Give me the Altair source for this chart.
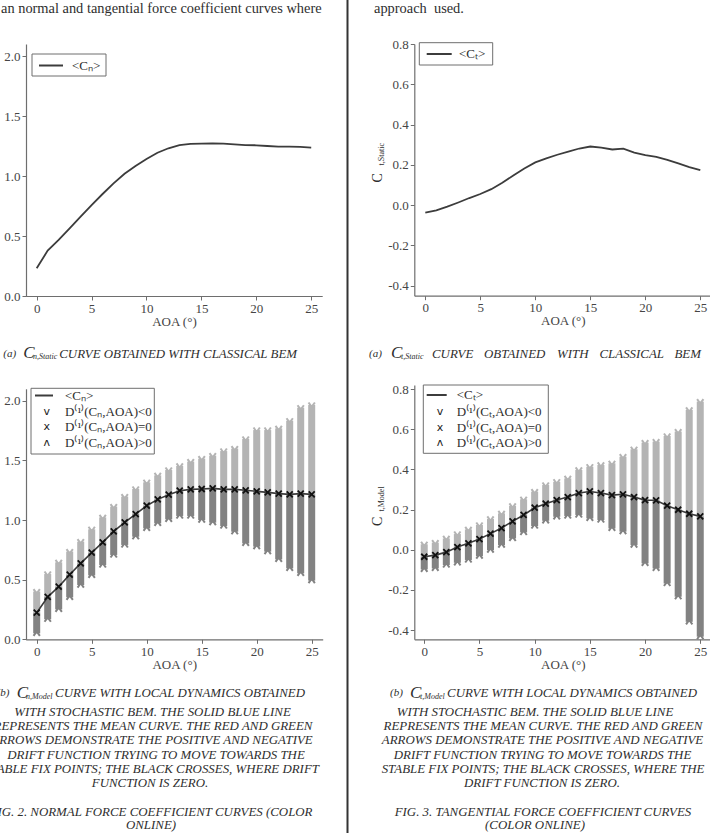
import altair as alt
import pandas as pd

W, H = 710, 833

# ---------------------------------------------------------------- data
aoa = list(range(26))

# static BEM curves
cn_static = [0.231, 0.378, 0.467, 0.564, 0.661, 0.758, 0.850, 0.939, 1.019, 1.083,
             1.142, 1.194, 1.231, 1.258, 1.267, 1.269, 1.272, 1.269, 1.264, 1.258,
             1.256, 1.250, 1.244, 1.244, 1.242, 1.236]
ct_static = [-0.038, -0.026, -0.008, 0.013, 0.035, 0.055, 0.079, 0.111, 0.147, 0.182,
             0.212, 0.232, 0.250, 0.265, 0.281, 0.291, 0.285, 0.276, 0.280, 0.261,
             0.248, 0.240, 0.225, 0.207, 0.189, 0.174]

# stochastic model: mean (zero drift) and extent of the drift arrows
cn_mean = [0.223, 0.355, 0.441, 0.542, 0.637, 0.726, 0.813, 0.905, 0.980, 1.050,
           1.120, 1.173, 1.212, 1.246, 1.257, 1.260, 1.265, 1.257, 1.257, 1.249,
           1.240, 1.232, 1.221, 1.215, 1.221, 1.215]
cn_up = [0.400, 0.547, 0.645, 0.735, 0.818, 0.922, 1.022, 1.112, 1.196, 1.260,
         1.316, 1.374, 1.419, 1.453, 1.489, 1.514, 1.539, 1.578, 1.598, 1.679,
         1.754, 1.754, 1.768, 1.832, 1.941, 1.964]
cn_low = [0.050, 0.168, 0.251, 0.352, 0.455, 0.536, 0.623, 0.707, 0.791, 0.860,
          0.930, 0.972, 1.006, 1.034, 1.034, 1.000, 0.978, 0.950, 0.902, 0.804,
          0.777, 0.735, 0.670, 0.595, 0.553, 0.492]

ct_mean = [-0.035, -0.027, -0.012, 0.013, 0.032, 0.053, 0.080, 0.108, 0.141, 0.173,
           0.209, 0.229, 0.247, 0.262, 0.282, 0.290, 0.282, 0.272, 0.276, 0.262,
           0.247, 0.246, 0.219, 0.199, 0.179, 0.166]
ct_up = [0.027, 0.035, 0.056, 0.078, 0.101, 0.123, 0.153, 0.181, 0.218, 0.251,
         0.289, 0.322, 0.338, 0.355, 0.397, 0.413, 0.422, 0.430, 0.463, 0.500,
         0.533, 0.538, 0.566, 0.588, 0.696, 0.737]
ct_low = [-0.098, -0.093, -0.076, -0.065, -0.051, -0.032, -0.002, 0.023, 0.056, 0.086,
          0.118, 0.144, 0.164, 0.168, 0.173, 0.156, 0.148, 0.106, 0.090, 0.023,
          -0.068, -0.093, -0.168, -0.234, -0.359, -0.433]

x_ticks = [0, 5, 10, 15, 20, 25]
cn_ticks = [0.0, 0.5, 1.0, 1.5, 2.0]
ct_ticks = [-0.4, -0.2, 0.0, 0.2, 0.4, 0.6, 0.8]

# ---------------------------------------------------------------- style
SERIF = "Liberation Serif"
INK = "#2e2e2e"
AX = "#6e6e6e"
LABEL = "#454545"
LINE = "#3c3c3c"
LIGHT = "#b4b4b4"
DARK = "#828282"

X_SHAPE = "M-1,-1L1,1M-1,1L1,-1"
V_SHAPE = "M-1,-0.8L0,0.6L1,-0.8"
A_SHAPE = "M-1,0.8L0,-0.6L1,0.8"

LABEL_EXPR = ("datum.value < 0 ? '-' + format(-datum.value, '.1f') "
              ": format(datum.value, '.1f')")


def make_axes(x_at, y_at, yvals):
    xa = alt.Axis(orient="bottom", offset=x_at - H, values=x_ticks, title="AOA (°)",
                  grid=False, labelFont=SERIF, labelFontSize=13, labelColor=LABEL,
                  labelPadding=2, titleFont=SERIF, titleFontSize=13,
                  titleFontWeight="normal", titleColor=LABEL, titlePadding=0,
                  tickSize=4, tickColor=AX, domainColor=AX, domainWidth=1.2,
                  labelFlush=False)
    ya = alt.Axis(orient="left", offset=-y_at, values=yvals, labelExpr=LABEL_EXPR,
                  title=None, grid=False, labelFont=SERIF, labelFontSize=13,
                  labelColor=LABEL, labelPadding=2, tickSize=4, tickColor=AX,
                  domainColor=AX, domainWidth=1.2)
    return xa, ya


def scales(xdom, xrng, ydom, yrng):
    xs = alt.Scale(domain=xdom, range=xrng, nice=False, zero=False)
    ys = alt.Scale(domain=ydom, range=yrng, nice=False, zero=False)
    return xs, ys


def static_panel(values, xs, ys, xa, ya):
    df = pd.DataFrame({"aoa": aoa, "c": values})
    return alt.Chart(df).mark_line(color=LINE, strokeWidth=1.8).encode(
        x=alt.X("aoa:Q", scale=xs, axis=xa),
        y=alt.Y("c:Q", scale=ys, axis=ya),
    )


def model_panel(mean, up, low, xs, ys, xa, ya):
    df = pd.DataFrame({"aoa": aoa, "mean": mean, "up": up, "low": low})
    base = alt.Chart(df)
    X = alt.X("aoa:Q", scale=xs, axis=xa)
    upper = base.mark_rule(strokeWidth=7, color=LIGHT).encode(
        x=X, y=alt.Y("up:Q", scale=ys, axis=ya), y2=alt.Y2("mean"))
    lower = base.mark_rule(strokeWidth=7, color=DARK).encode(
        x=X, y=alt.Y("low:Q", scale=ys, axis=ya), y2=alt.Y2("mean"))
    tip_up = base.mark_point(shape=V_SHAPE, filled=False, size=40, strokeWidth=2,
                             color=LIGHT, opacity=1).encode(
        x=X, y=alt.Y("up:Q", scale=ys, axis=ya))
    tip_low = base.mark_point(shape=A_SHAPE, filled=False, size=40, strokeWidth=2,
                              color=DARK, opacity=1).encode(
        x=X, y=alt.Y("low:Q", scale=ys, axis=ya))
    line = base.mark_line(color=LINE, strokeWidth=1.6).encode(
        x=X, y=alt.Y("mean:Q", scale=ys, axis=ya))
    cross = base.mark_point(shape=X_SHAPE, filled=False, size=36, strokeWidth=1.8,
                            color="#111111", opacity=1).encode(
        x=X, y=alt.Y("mean:Q", scale=ys, axis=ya))
    return alt.layer(upper, lower, tip_up, tip_low, line, cross)


ONE = pd.DataFrame({"k": [0]})


def text(t, x, y, size, style="normal", align="left", angle=0, color=INK,
         font=SERIF, weight="normal"):
    return alt.Chart(pd.DataFrame({"t": [t]})).mark_text(
        font=font, fontSize=size, fontStyle=style, fontWeight=weight, align=align,
        baseline="middle", angle=angle, color=color).encode(
        x=alt.value(x), y=alt.value(y), text="t:N")


def box(x1, x2, y1, y2):
    return alt.Chart(ONE).mark_rect(fill="white", stroke=AX, strokeWidth=1).encode(
        x=alt.value(x1), x2=alt.value(x2), y=alt.value(y1), y2=alt.value(y2))


def sample_line(x1, x2, y):
    return alt.Chart(ONE).mark_rule(color=LINE, strokeWidth=2).encode(
        x=alt.value(x1), x2=alt.value(x2), y=alt.value(y))


# ---------------------------------------------------------------- panels
layers = []

# (a) normal force, static
xs, ys = scales([-1, 26], [25.7, 322.2], [0, 2.1], [296, 44])
xa, ya = make_axes(296, 26, cn_ticks)
layers.append(static_panel(cn_static, xs, ys, xa, ya))

# (a) tangential force, static
xs, ys = scales([-1, 26], [414.3, 711.3], [-0.45, 0.8], [295.7, 44])
xa, ya = make_axes(295.7, 414.3, ct_ticks)
layers.append(static_panel(ct_static, xs, ys, xa, ya))

# (b) normal force, stochastic model
xs, ys = scales([-1, 26], [25.7, 322.7], [0, 2.1], [639.3, 388.8])
xa, ya = make_axes(639.3, 26, cn_ticks)
layers.append(model_panel(cn_mean, cn_up, cn_low, xs, ys, xa, ya))

# (b) tangential force, stochastic model
xs, ys = scales([-0.9, 26], [414.3, 711.3], [-0.446, 0.82], [639.3, 385])
xa, ya = make_axes(639.3, 414.3, ct_ticks)
layers.append(model_panel(ct_mean, ct_up, ct_low, xs, ys, xa, ya))

# ---------------------------------------------------------------- legends
layers += [box(32, 106, 54, 76), sample_line(39, 63, 65.5),
           text("<Cₙ>", 72, 65.5, 13)]
layers += [box(419.3, 492.7, 42.7, 65), sample_line(426.7, 451.7, 54),
           text("<Cₜ>", 459, 54, 13)]

sym = ["v", "x", "ʌ"]
for (bx1, bx2, by1, by2, lx1, lx2, sx, tx, ys_rows, sub) in [
        (31, 154.3, 388.3, 454, 35, 53, 46.7, 65, [395.5, 411.7, 427.3, 443.3], "ₙ"),
        (423.3, 548.3, 385, 453.3, 426.7, 446.7, 440, 456.7, [395, 411.7, 427.7, 443.3], "ₜ")]:
    rows = [f"<C{sub}>", f"D⁽¹⁾(C{sub},AOA)<0", f"D⁽¹⁾(C{sub},AOA)=0", f"D⁽¹⁾(C{sub},AOA)>0"]
    layers += [box(bx1, bx2, by1, by2), sample_line(lx1, lx2, ys_rows[0])]
    for i, r in enumerate(rows):
        layers.append(text(r, tx, ys_rows[i], 13))
    for i, s in enumerate(sym):
        layers.append(text(s, sx, ys_rows[i + 1], 11, align="center",
                           font="DejaVu Sans", color="#222222"))

# y-axis titles of the tangential panels
layers += [text("C", 377.7, 182.5, 14, angle=270),
           text("t,Static", 381.5, 165.5, 8, angle=270),
           text("C", 378.3, 526, 14, angle=270),
           text("t,Model", 382, 511.5, 8, angle=270)]

# ---------------------------------------------------------------- page text
layers.append(text("an normal and tangential force coefficient curves where", 1, 8.5, 14.4))
layers.append(text("approach\u00a0\u00a0used.", 374, 8.5, 14.4))

CAP = 12.9
IT = "italic"
# sub-figure (a) captions
layers += [text("(a)", 3.3, 353.5, 11, IT), text("C", 23.3, 353, 17, IT),
           text("n,Static", 33, 357, 8, IT),
           text("CURVE OBTAINED WITH CLASSICAL BEM", 297, 353.5, CAP, IT, align="right")]
layers += [text("(a)", 369, 353.5, 11, IT), text("C", 391, 353, 17, IT),
           text("t,Static", 401, 357, 8, IT)]
# the right-hand caption is set justified, with wider word gaps
right_a_words = ["CURVE", "OBTAINED", "WITH", "CLASSICAL", "BEM"]
right_a_x = [432, 484, 557, 599.5, 674.5]
for w, x in zip(right_a_words, right_a_x):
    layers.append(text(w, x, 353.5, CAP, IT))

# sub-figure (b) captions, first line
for (xa_, xc, xs_, xr, sub) in [(-3.3, 16.7, 26, 305, "n,Model"),
                                 (390, 410, 420, 697, "t,Model")]:
    layers += [text("(b)", xa_, 693, 11, IT), text("C", xc, 692.5, 17, IT),
               text(sub, xs_, 696.5, 8, IT),
               text("CURVE WITH LOCAL DYNAMICS OBTAINED", xr, 693, CAP, IT, align="right")]

left_lines = ["WITH STOCHASTIC BEM. THE SOLID BLUE LINE",
              "REPRESENTS THE MEAN CURVE. THE RED AND GREEN",
              "ARROWS DEMONSTRATE THE POSITIVE AND NEGATIVE",
              "DRIFT FUNCTION TRYING TO MOVE TOWARDS THE",
              "STABLE FIX POINTS; THE BLACK CROSSES, WHERE DRIFT",
              "FUNCTION IS ZERO."]
right_lines = ["WITH STOCHASTIC BEM. THE SOLID BLUE LINE",
               "REPRESENTS THE MEAN CURVE. THE RED AND GREEN",
               "ARROWS DEMONSTRATE THE POSITIVE AND NEGATIVE",
               "DRIFT FUNCTION TRYING TO MOVE TOWARDS THE",
               "STABLE FIX POINTS; THE BLACK CROSSES, WHERE THE",
               "DRIFT FUNCTION IS ZERO."]
left_fig = ["FIG. 2. NORMAL FORCE COEFFICIENT CURVES (COLOR", "ONLINE)"]
right_fig = ["FIG. 3. TANGENTIAL FORCE COEFFICIENT CURVES", "(COLOR ONLINE)"]

left_cx = [152.5, 153, 152, 156, 151.5, 150]
right_cx = [535, 543, 542.5, 542.5, 543, 542]
left_fig_cx = [151, 151]
right_fig_cx = [543, 535]

for lines, centers, y0, dy in [(left_lines, left_cx, 711.7, 14.3),
                               (right_lines, right_cx, 711.7, 14.3),
                               (left_fig, left_fig_cx, 811.7, 13.3),
                               (right_fig, right_fig_cx, 811.7, 13.3)]:
    for i, ln in enumerate(lines):
        layers.append(text(ln, centers[i], y0 + dy * i, CAP, IT, align="center"))

# column divider
layers.append(alt.Chart(ONE).mark_rule(color="#333333", strokeWidth=2).encode(
    x=alt.value(347.5), y=alt.value(0), y2=alt.value(H)))

chart = alt.layer(*layers).resolve_scale(
    x="independent", y="independent"
).resolve_axis(
    x="independent", y="independent"
).properties(
    width=W, height=H, padding=0,
    autosize=alt.AutoSizeParams(type="none"),
    background="white",
).configure_view(stroke=None)

chart.save("out.html", embed_options={"renderer": "svg", "actions": False})
